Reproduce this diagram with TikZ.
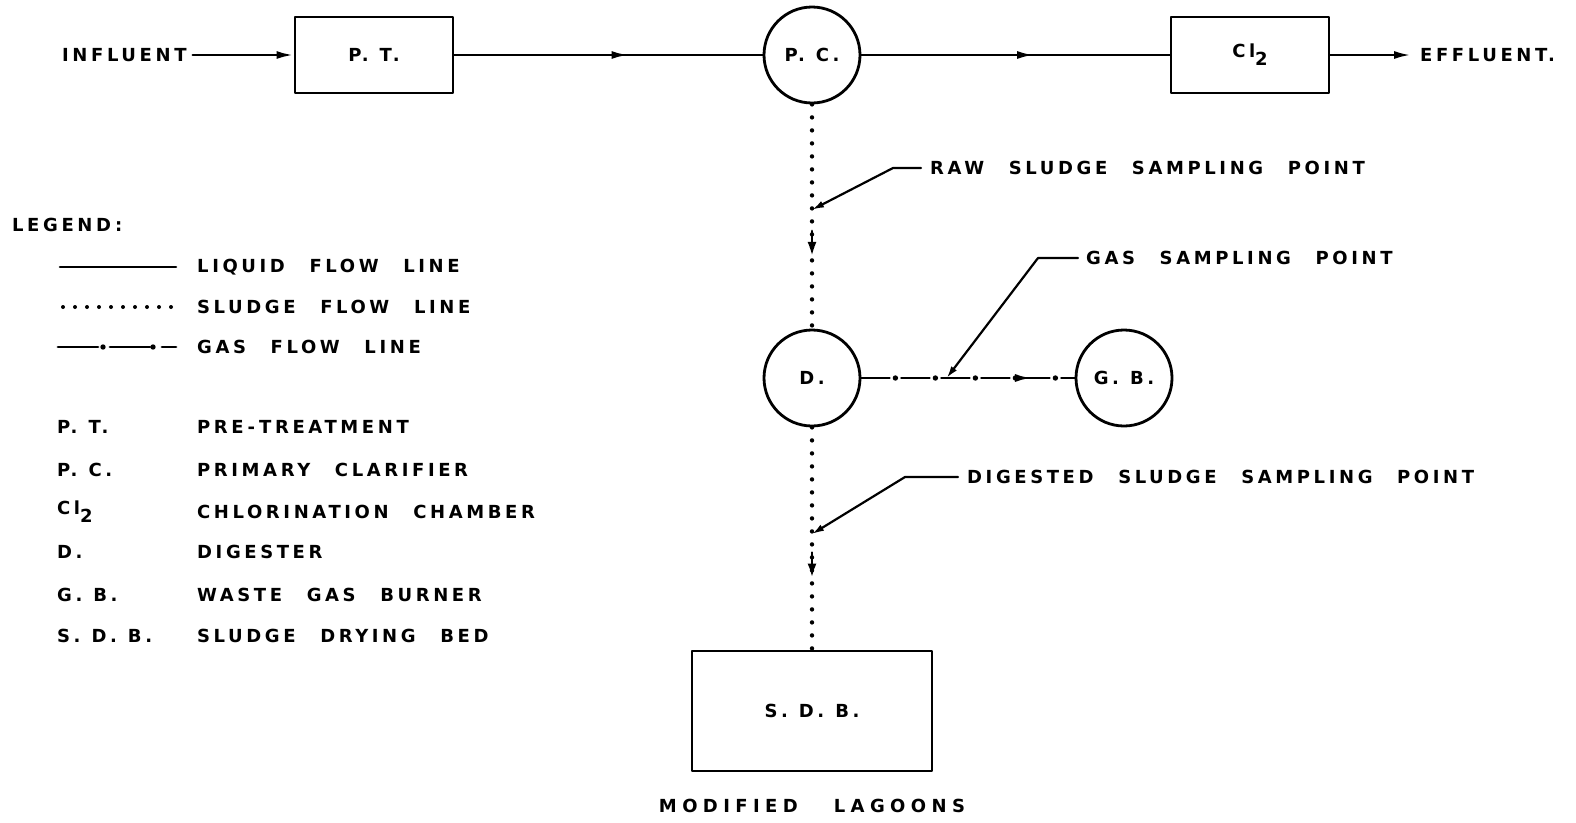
\documentclass[tikz,border=0pt]{standalone}
\usepackage{fontspec}
\newfontfamily\leroy{DejaVu Sans}[LetterSpace=20,WordSpace=2.5]
\newcommand\lettrfont{\leroy\bfseries\fontsize{18}{20}\selectfont}
\newcommand\abbrfont{\lettrfont\spaceskip=11pt\relax}
\usetikzlibrary{arrows.meta,calc,positioning,decorations.markings}

\begin{document}
\begin{tikzpicture}[x=1pt,y=-1pt,>=Latex,line cap=round,line join=round]
\path[fill=white] (0,0) rectangle (1576,822);
\tikzset{lbl/.style={font=\lettrfont,inner sep=0pt},
  abbr/.style={font=\abbrfont,inner sep=0pt},
  unitbox/.style={draw,line width=2.8pt,minimum width=158pt,minimum height=76pt,font=\abbrfont},
  unitcirc/.style={draw,circle,line width=2.8pt,minimum size=96pt,inner sep=0pt,font=\abbrfont},
  liquid/.style={draw,line width=2.6pt},
  sludge/.style={draw,line width=4.4pt,dash pattern=on 0pt off 13pt},
  gasline/.style n args={3}{draw,line width=2.8pt,dash pattern=on #1 off 12pt,
    postaction={decorate,decoration={markings,mark=between positions #2 and 1 step #3 with {\fill (0,0) circle (2.7pt);}}}},
  leader/.style={draw,line width=2.2pt,-{Latex[length=12pt,width=7pt]}},
  liqarrow/.style={postaction={decorate,decoration={markings,mark=at position #1 with {\arrow{Latex[length=17pt,width=8pt]}}}}},
  sludgearrow/.style={postaction={decorate,decoration={markings,mark=at position #1 with {\draw[solid,line width=2.4pt] (-26pt,0) -- (-8pt,0); \arrow{Latex[length=15pt,width=9pt]}}}}}}
% main liquid train
\node[lbl,anchor=west,inner xsep=6pt] (inf) at (56,55) {INFLUENT};
\node[unitbox] (pt) at (374,55) {P. T.};
\node[unitcirc] (pc) at (812,55) {P. C.};
\node[unitbox] (cl) at (1250,55) {Cl\raisebox{-8pt}{2}};
\node[lbl,anchor=west,inner xsep=9pt] (eff) at (1411,55) {EFFLUENT.};
\draw[liquid,-{Latex[length=17pt,width=8pt]}] (inf.east) -- (pt.west);
\draw[liquid,liqarrow=0.565] (pt.east) -- (pc.west);
\draw[liquid,liqarrow=0.56] (pc.east) -- (cl.west);
\draw[liquid,-{Latex[length=17pt,width=8pt]}] (cl.east) -- (eff.west);
% sludge and gas
\node[unitcirc] (dg) at (812,378) {D.};
\node[unitcirc] (gb) at (1124,378) {G. B.};
\node[unitbox,minimum width=240pt,minimum height=120pt] (sdb) at (812,711) {S. D. B.};
\node[lbl,font=\lettrfont\addfontfeature{LetterSpace=30}] (lag) at (812,806) {MODIFIED\hspace{36pt}LAGOONS};
\draw[sludge,sludgearrow=0.68] (pc.south) -- (dg.north);
\draw[sludge,sludgearrow=0.68] (dg.south) -- (sdb.north);
\draw[gasline={28pt}{34pt}{40pt},liqarrow=0.8] (dg.east) -- (gb.west);
% sampling points
\coordinate (rawpt) at ($(pc.south)!0.47!(dg.north)$);
\coordinate (gaspt) at ($(dg.east)!0.40!(gb.west)$);
\coordinate (digpt) at ($(dg.south)!0.48!(sdb.north)$);
\node[lbl,anchor=west,inner xsep=9pt] (rawtxt) at (921,168) {RAW SLUDGE SAMPLING POINT};
\node[lbl,anchor=west,inner xsep=8pt] (gastxt) at (1078,258) {GAS SAMPLING POINT};
\node[lbl,anchor=west,inner xsep=9pt] (digtxt) at (958,477) {DIGESTED SLUDGE SAMPLING POINT};
\draw[leader] (rawtxt.west) -- ++(-28,0) -- (rawpt);
\draw[leader] (gastxt.west) -- ++(-40,0) -- (gaspt);
\draw[leader] (digtxt.west) -- ++(-53,0) -- (digpt);
% legend
\node[lbl,anchor=west] (leg) at (12,225) {LEGEND\hspace{4pt}:};
\node[lbl,anchor=west] (liqtxt) at (197,267) {LIQUID FLOW LINE};
\node[lbl,anchor=west] (sldtxt) at (197,307) {SLUDGE FLOW LINE};
\node[lbl,anchor=west] (gasltxt) at (197,347) {GAS FLOW LINE};
\draw[liquid] ($(liqtxt.west)+(-137,0)$) -- ++(116,0);
\draw[sludge,line width=4pt,dash pattern=on 0pt off 12pt] ($(sldtxt.west)+(-134,0)$) -- ++(110,0);
\draw[gasline={40pt}{45pt}{50pt}] ($(gasltxt.west)+(-139,0)$) -- ++(118,0);
\node[abbr,anchor=west] (ab1) at (57,427) {P. T.};
\node[lbl,anchor=west] (ds1) at (197,427) {PRE\hspace{4pt}-\hspace{4pt}TREATMENT};
\node[abbr,anchor=west] (ab2) at (57,470) {P. C.};
\node[lbl,anchor=west] (ds2) at (197,470) {PRIMARY CLARIFIER};
\node[abbr,anchor=west] (ab3) at (57,512) {Cl\raisebox{-8pt}{2}};
\node[lbl,anchor=west] (ds3) at (197,512) {CHLORINATION CHAMBER};
\node[abbr,anchor=west] (ab4) at (57,552) {D.};
\node[lbl,anchor=west] (ds4) at (197,552) {DIGESTER};
\node[abbr,anchor=west] (ab5) at (57,595) {G. B.};
\node[lbl,anchor=west] (ds5) at (197,595) {WASTE GAS BURNER};
\node[abbr,anchor=west] (ab6) at (57,636) {S. D. B.};
\node[lbl,anchor=west] (ds6) at (197,636) {SLUDGE DRYING BED};
\end{tikzpicture}
\end{document}
